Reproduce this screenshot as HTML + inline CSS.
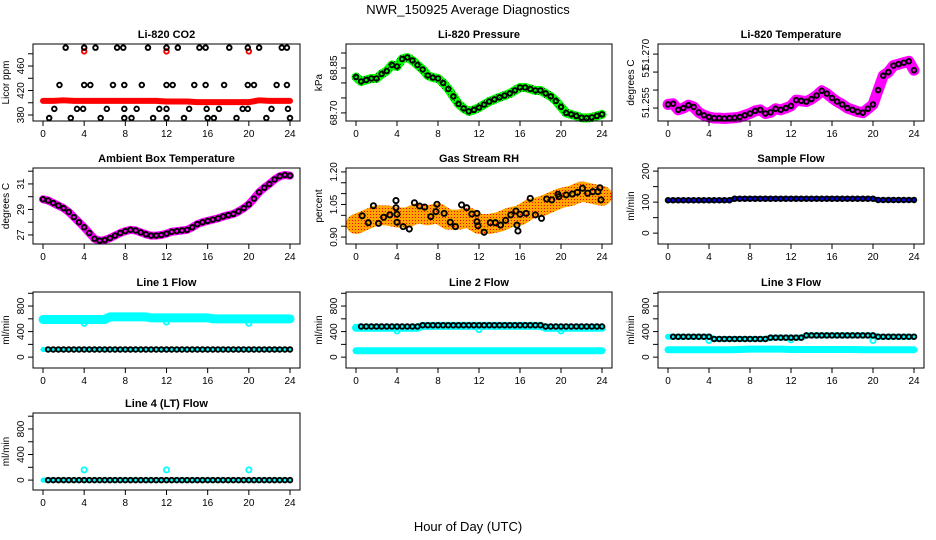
<!DOCTYPE html>
<html><head><meta charset="utf-8"><style>
html,body{margin:0;padding:0;background:#fff}
svg{display:block;font-family:"Liberation Sans",Arial,sans-serif}
</style></head><body>
<svg id="chart" width="936" height="540" viewBox="0 0 936 540" xmlns="http://www.w3.org/2000/svg">
<defs>
<pattern id="orangeDots" width="3" height="3" patternUnits="userSpaceOnUse">
<rect width="3" height="3" fill="#ffa500"/><rect x="1" y="1" width="1" height="1" fill="#ff0000"/>
</pattern>
<pattern id="greenDots" width="3" height="3" patternUnits="userSpaceOnUse">
<rect width="3" height="3" fill="#00ff00"/><rect x="1" y="1" width="1" height="1" fill="#006600"/>
</pattern>
</defs>
<text x="468" y="14" font-size="13" text-anchor="middle">NWR_150925  Average Diagnostics</text>
<text x="468" y="531" font-size="13" text-anchor="middle">Hour of Day (UTC)</text>
</svg>
<script>
const halfHours=[0,0.5,1,1.5,2,2.5,3,3.5,4,4.5,5,5.5,6,6.5,7,7.5,8,8.5,9,9.5,10,10.5,11,11.5,12,12.5,13,13.5,14,14.5,15,15.5,16,16.5,17,17.5,18,18.5,19,19.5,20,20.5,21,21.5,22,22.5,23,23.5,24];
const hours=[0,1,2,3,4,5,6,7,8,9,10,11,12,13,14,15,16,17,18,19,20,21,22,23,24];
const xTicks=[0,4,8,12,16,20,24];
const outlierHours=[4,12,20];

const co2Red=[403,403,404,403,403,403,403,403,403,403,403,403,402,402,402,401,401,401,401,401,401,404,403,403,403];
const co2Out=[484,484,484];
const co2BlackHours=[2.2,4.0,5.1,7.2,7.8,10.2,12.0,13.1,15.2,15.8,18.1,19.9,21.0,23.2,23.7,
1.6,4.0,4.6,6.8,7.9,9.6,12.0,12.6,14.7,15.8,17.6,19.9,20.5,22.7,23.7,
1.1,3.3,3.9,6.2,7.9,9.1,11.3,12.0,14.2,15.9,17.1,19.4,19.9,22.2,23.8,
0.6,2.7,5.6,7.9,8.6,10.7,12.0,13.7,16.0,16.6,18.8,21.7,24.0];
const co2BlackVals=[490,490,490,490,490,490,490,490,490,490,490,490,490,490,490,
429,429,429,429,429,429,429,429,429,429,429,429,429,429,429,
390,390,390,390,390,390,390,390,390,390,390,390,390,390,390,
375,375,375,375,375,375,375,375,375,375,375,375,375];

const pressure=[68.820,68.805,68.810,68.815,68.815,68.830,68.840,68.860,68.855,68.880,68.885,68.875,68.860,68.845,68.825,68.818,68.815,68.800,68.780,68.755,68.730,68.715,68.705,68.710,68.718,68.728,68.738,68.745,68.752,68.758,68.765,68.775,68.785,68.785,68.780,68.775,68.775,68.765,68.755,68.740,68.720,68.700,68.695,68.690,68.684,68.683,68.685,68.690,68.695];

const licorTemp=[51.2560,51.2562,51.2545,51.2550,51.2558,51.2553,51.2538,51.2530,51.2525,51.2522,51.2522,51.2521,51.2522,51.2523,51.2525,51.2530,51.2535,51.2542,51.2545,51.2535,51.2538,51.2548,51.2545,51.2550,51.2556,51.2572,51.2570,51.2568,51.2575,51.2585,51.2598,51.2590,51.2578,51.2568,51.2560,51.2550,51.2545,51.2540,51.2537,51.2548,51.2560,51.2600,51.2640,51.2650,51.2668,51.2672,51.2676,51.2680,51.2655];

const ambient=[29.8,29.7,29.5,29.3,29.1,28.8,28.4,28.0,27.6,27.15,26.7,26.55,26.6,26.75,26.95,27.15,27.3,27.4,27.35,27.2,27.05,26.95,26.95,27.0,27.1,27.25,27.3,27.35,27.4,27.6,27.85,28.0,28.1,28.2,28.3,28.45,28.55,28.65,28.85,29.1,29.4,29.85,30.35,30.7,31.0,31.35,31.6,31.7,31.65];

const rhTrend=[0.96,0.98,1.0,1.0,0.99,0.99,1.01,1.0,1.01,0.98,0.98,0.99,0.96,0.96,0.97,0.99,1.0,1.03,1.04,1.06,1.08,1.09,1.11,1.10,1.09];
const rhHours=[0.6,1.2,1.7,2.2,2.7,3.3,3.9,3.9,4.0,4.0,4.6,5.2,5.7,6.2,6.7,7.3,7.9,7.8,8.6,9.2,9.7,10.3,10.8,11.3,11.8,11.8,11.9,12.5,13.1,13.6,14.1,14.6,15.1,15.6,15.7,15.8,16.0,16.6,17.0,17.5,18.1,18.6,19.1,19.7,19.8,20.5,21.1,21.6,22.1,22.6,23.1,23.6,23.8,23.9];
const rhVals=[0.998,0.966,1.044,0.963,0.991,1.002,1.068,1.035,1.005,0.968,0.948,0.937,1.058,1.043,1.038,0.994,1.051,1.017,1.009,0.968,0.948,1.048,1.035,1.006,1.009,0.971,0.952,0.922,0.966,0.966,0.955,0.977,1.002,1.020,0.955,0.928,1.005,1.009,1.078,1.002,0.986,1.075,1.071,1.097,1.086,1.094,1.098,1.106,1.125,1.102,1.109,1.109,1.127,1.071];

const sampleFlow=[106,106,106,106,106,106,106,106,106,106,106,106,106,111,111,111,111,111,111,111,111,111,111,111,111,111,111,111,111,111,111,111,111,111,111,111,111,111,111,111,111,107,107,107,107,107,107,107,107];

const line1Upper=[590,590,590,590,590,590,590,590,590,590,590,590,590,630,630,630,630,630,630,630,630,615,615,615,615,615,615,615,615,615,615,615,615,600,600,600,600,600,600,600,600,600,600,600,600,600,600,600,600];
const line1Black=[120,120,120,120,120,120,120,120,120,120,120,120,120,120,120,120,120,120,120,120,120,120,120,120,120,120,120,120,120,120,120,120,120,120,120,120,120,120,120,120,120,120,120,120,120,120,120,120,120];
const line1Out=[530,550,530];

const line2Upper=[460,460,460,460,460,460,460,460,460,460,460,460,460,490,490,490,490,490,490,490,490,490,490,490,490,490,490,490,490,490,490,490,490,490,490,490,490,460,460,460,460,460,460,460,460,460,460,460,460];
const line2Black=[480,480,480,480,480,480,480,480,480,480,480,480,480,500,500,500,500,500,500,500,500,500,500,500,500,500,500,500,500,500,500,500,500,500,500,500,500,480,480,480,480,480,480,480,480,480,480,480,480];
const line2Lower=[100,100,100,100,100,100,100,100,100,100,100,100,100,100,100,100,100,100,100,100,100,100,100,100,100];
const line2Out=[410,430,410];

const line3Black=[320,320,320,320,320,320,320,320,320,285,285,285,285,285,285,285,285,285,285,285,305,305,305,305,305,305,305,340,340,340,340,340,340,340,340,340,340,340,340,340,340,320,320,320,320,320,320,320,320];
const line3Lower=[115,115,115,115,115,115,115,120,125,125,125,125,120,120,120,120,120,120,120,115,115,115,115,115,115];
const line3Out=[260,270,260];

const line4Black=[0,0,0,0,0,0,0,0,0,0,0,0,0,0,0,0,0,0,0,0,0,0,0,0,0,0,0,0,0,0,0,0,0,0,0,0,0,0,0,0,0,0,0,0,0,0,0,0,0];
const line4Out=[160,160,160];

const NS="http://www.w3.org/2000/svg";
const svg=document.getElementById('chart');
const cols=[[33,300],[346,612],[658,924]];
const rows=[[44,121],[168,244],[292,368],[413,490]];

function mk(tag,attrs,parent){const e=document.createElementNS(NS,tag);for(const k in attrs)e.setAttribute(k,attrs[k]);parent.appendChild(e);return e;}

function panel(name,c,r,title,ylab,ymin,ymax,yticks,ylabels){
  const [x0,x1]=cols[c],[y0,y1]=rows[r];
  const g=mk('g',{},svg);
  
  
  const sx=h=>x0+10+h/24*(x1-x0-20);
  const sy=v=>y1-(v-ymin)/(ymax-ymin)*(y1-y0);
  const t=mk('text',{x:(x0+x1)/2,y:y0-6,'font-size':11,'font-weight':'bold','text-anchor':'middle'},g);
  t.textContent=title;
  
  
  const yl=mk('text',{x:0,y:0,'font-size':10,'text-anchor':'middle',transform:`translate(${x0-24},${(y0+y1)/2}) rotate(-90)`},g);
  yl.textContent=ylab;
  
  
  const plot=mk('g',{},g);
  
  
  const xa=mk('g',{},g);
  
  
  xTicks.forEach(h=>{
    mk('line',{x1:sx(h),x2:sx(h),y1:y1,y2:y1+5,stroke:'#000'},xa);
    const l=mk('text',{x:sx(h),y:y1+16,'font-size':10,'text-anchor':'middle'},xa);
    l.textContent=h;
    
    
  });
  const ya=mk('g',{},g);
  
  
  yticks.forEach(v=>{mk('line',{x1:x0-5,x2:x0,y1:sy(v),y2:sy(v),stroke:'#000'},ya);});
  ylabels.forEach(([v,s])=>{
    const l=mk('text',{x:0,y:0,'font-size':10,'text-anchor':'middle',transform:`translate(${x0-9},${sy(v)}) rotate(-90)`},ya);
    l.textContent=s;
    
    
  });
  const box=mk('rect',{x:x0,y:y0,width:x1-x0,height:y1-y0,fill:'none',stroke:'#000'},g);
  
  
  return {sx,sy,plot};
}
function band(p,xs,ys,color,w,name){
  const pts=xs.map((h,i)=>p.sx(h)+','+p.sy(ys[i])).join(' ');
  const e=mk('polyline',{points:pts,fill:'none',stroke:color,'stroke-width':w,'stroke-linejoin':'round','stroke-linecap':'round'},p.plot);
  
  
}
function dots(p,xs,ys,color,name,r,sw){
  xs.forEach((h,i)=>{
    const e=mk('circle',{cx:p.sx(h),cy:p.sy(ys[i]),r:r||2.3,fill:'none',stroke:color,'stroke-width':sw||1.9},p.plot);
    
    
  });
}

// CO2
let p=panel('co2',0,0,'Li-820 CO2','Licor ppm',370.2,496,[380,400,420,440,460,480],[[380,'380'],[420,'420'],[460,'460']]);
band(p,hours,co2Red,'#ff0000',6,'co2-red-series');
dots(p,outlierHours,co2Out,'#ff0000','co2-red-outlier');
dots(p,co2BlackHours,co2BlackVals,'#000','co2-black-point');

// Pressure
p=panel('pressure',1,0,'Li-820 Pressure','kPa',68.673,68.93,[68.70,68.75,68.80,68.85,68.90],[[68.70,'68.70'],[68.85,'68.85']]);
band(p,halfHours,pressure,'url(#greenDots)',9,'pressure-green-series');
dots(p,halfHours,pressure,'#00ff00','pressure-green-point',2.6,1.2);
dots(p,halfHours,pressure,'#000','pressure-black-point');

// Licor temperature
p=panel('licor-temp',2,0,'Li-820 Temperature','degrees C',51.2514,51.2728,[51.255,51.260,51.265,51.270],[[51.270,'51.270'],[51.265,'51'],[51.2565,'51.255']]);
band(p,halfHours,licorTemp,'#ff00ff',11,'licor-temp-magenta-series');
dots(p,halfHours,licorTemp,'#ff00ff','licor-temp-magenta-point',3,1.4);
dots(p,halfHours,licorTemp,'#000','licor-temp-black-point');

// Ambient
p=panel('ambient',0,1,'Ambient Box Temperature','degrees C',26.29,32.25,[27,28,29,30,31,32],[[27,'27'],[29,'29'],[31,'31']]);
band(p,halfHours,ambient,'#ff00ff',8,'ambient-magenta-series');
dots(p,halfHours,ambient,'#000','ambient-black-point');

// RH
p=panel('rh',1,1,'Gas Stream RH','percent',0.868,1.218,[0.90,0.95,1.00,1.05,1.10,1.15,1.20],[[0.90,'0.90'],[1.05,'1.05'],[1.20,'1.20']]);
band(p,hours,rhTrend,'url(#orangeDots)',20,'rh-orange-series');
dots(p,rhHours,rhVals,'#000','rh-black-point',2.6,1.9);

// Sample flow
p=panel('sample-flow',2,1,'Sample Flow','ml/min',-35,210,[0,50,100,150,200],[[0,'0'],[100,'100'],[200,'200']]);
band(p,halfHours,sampleFlow,'#0000ff',5,'sample-flow-blue-series');
dots(p,halfHours,sampleFlow,'#000','sample-flow-black-point');

const flowTicks=[0,200,400,600,800,1000];
const flowLabels=[[0,'0'],[400,'400'],[800,'800']];
// Line 1
p=panel('line1-flow',0,2,'Line 1 Flow','ml/min',-170,1020,flowTicks,flowLabels);
band(p,halfHours,line1Upper,'#00ffff',9,'line1-cyan-upper');
band(p,halfHours,line1Black,'#00ffff',5,'line1-cyan-lower');
dots(p,outlierHours,line1Out,'#00ffff','line1-cyan-outlier',2.6,1.8);
dots(p,halfHours.slice(1),line1Black.slice(1),'#000','line1-black-point');

// Line 2
p=panel('line2-flow',1,2,'Line 2 Flow','ml/min',-170,1020,flowTicks,flowLabels);
band(p,halfHours,line2Upper,'#00ffff',8,'line2-cyan-upper');
band(p,hours,line2Lower,'#00ffff',7,'line2-cyan-lower');
dots(p,outlierHours,line2Out,'#00ffff','line2-cyan-outlier',2.6,1.8);
dots(p,halfHours.slice(1),line2Black.slice(1),'#000','line2-black-point');

// Line 3
p=panel('line3-flow',2,2,'Line 3 Flow','ml/min',-170,1020,flowTicks,flowLabels);
band(p,hours,line3Lower,'#00ffff',7,'line3-cyan-lower');
band(p,halfHours,line3Black,'#00ffff',6,'line3-cyan-upper');
dots(p,outlierHours,line3Out,'#00ffff','line3-cyan-outlier',2.6,1.8);
dots(p,halfHours.slice(1),line3Black.slice(1),'#000','line3-black-point');

// Line 4
p=panel('line4-flow',0,3,'Line 4 (LT) Flow','ml/min',-155,1050,flowTicks,flowLabels);
band(p,halfHours,line4Black,'#00ffff',5,'line4-cyan-series');
dots(p,outlierHours,line4Out,'#00ffff','line4-cyan-outlier',2.6,1.8);
dots(p,halfHours.slice(1),line4Black.slice(1),'#000','line4-black-point');
</script>
</body></html>
